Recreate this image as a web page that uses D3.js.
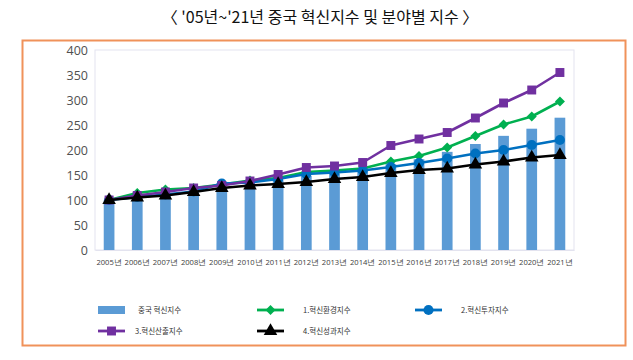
<!DOCTYPE html>
<html><head><meta charset="utf-8">
<script src="https://cdn.jsdelivr.net/npm/d3@7"></script>
<style>
html,body{margin:0;padding:0;background:#fff;}
svg{display:block;}
</style></head>
<body><svg id="c" width="633" height="360"></svg>
<script>
const years = ["2005년","2006년","2007년","2008년","2009년","2010년","2011년","2012년","2013년","2014년","2015년","2016년","2017년","2018년","2019년","2020년","2021년"];
const overall = [100,104.4,111.4,116.5,124.6,131.8,139.6,148.2,152.6,158.2,171.5,181.4,196.3,212.0,228.3,242.6,264.6];
const envIdx = [100,114,121,124,131,139,144,156,159,163,177,188,205,228,251,267,297];
const inputIdx = [100,106,111,117,133,135,142,152,155,159,166,174,183,193,200,210,220];
const outputIdx = [100,109,116,124,129,138,151,165,168,175,209,222,235,264,294,320,355];
const effectIdx = [100,105,109,116,124,129,132,136,142,146,154,160,163,171,177,185,190];
const yTicks = [0,50,100,150,200,250,300,350,400];
const title = "〈 '05년~'21년 중국 혁신지수 및 분야별 지수 〉";
const barName = "중국 혁신지수";

const lineSeries = [
  {name:"1.혁신환경지수", values:envIdx, color:"#00b050", symbol:d3.symbolSquare, size:50, rot:45},
  {name:"2.혁신투자지수", values:inputIdx, color:"#0070c0", symbol:d3.symbolCircle, size:80, rot:0},
  {name:"3.혁신산출지수", values:outputIdx, color:"#7030a0", symbol:d3.symbolSquare, size:80, rot:0},
  {name:"4.혁신성과지수", values:effectIdx, color:"#000000", symbol:d3.symbolTriangle, size:80, rot:0}
];
const barColor = "#5b9bd5";

const svg = d3.select("#c");
const m = {l:95, r:574, t:50, b:250};

svg.append("text").attr("x",320).attr("y",23).attr("text-anchor","middle")
  .attr("font-family","'Noto Sans CJK KR', sans-serif").attr("font-size",16).attr("fill","#111")
  .text(title);

svg.append("rect").attr("x",22.5).attr("y",40.5).attr("width",603).attr("height",305)
  .attr("fill","none").attr("stroke","#f0925a").attr("stroke-width",2);

const x = d3.scaleBand().domain(years).range([m.l,m.r]).paddingInner(0.62).paddingOuter(0.31);
const y = d3.scaleLinear().domain([0,400]).range([m.b,m.t]);

svg.append("rect").attr("x",m.l).attr("y",m.t).attr("width",m.r-m.l).attr("height",m.b-m.t)
  .attr("fill","none").attr("stroke","#e3e3ef").attr("stroke-width",1);

const yAx = svg.append("g").attr("transform",`translate(${m.l},0)`)
  .call(d3.axisLeft(y).tickValues(yTicks).tickSize(0).tickPadding(7));
yAx.select(".domain").remove();
yAx.selectAll("text").attr("font-family","'Open Sans', sans-serif").attr("font-size",12.5).attr("fill","#505050");

const xAx = svg.append("g").attr("transform",`translate(0,${m.b})`)
  .call(d3.axisBottom(x).tickSize(0).tickPadding(10));
xAx.select(".domain").attr("stroke","#e3e3ef");
xAx.selectAll("text").attr("font-family","'Open Sans', sans-serif").attr("font-size",7.6).attr("fill","#404040");

svg.append("g").selectAll("rect").data(overall).join("rect")
  .attr("x",(d,i)=>x(years[i])).attr("width",x.bandwidth())
  .attr("y",d=>y(d)).attr("height",d=>y(0)-y(d)).attr("fill",barColor);

const cx = i => x(years[i]) + x.bandwidth()/2;
const line = d3.line().x((d,i)=>cx(i)).y(d=>y(d));

lineSeries.forEach(s=>{
  const g = svg.append("g");
  g.append("path").datum(s.values).attr("d",line).attr("fill","none")
    .attr("stroke",s.color).attr("stroke-width",2.6).attr("stroke-linejoin","round");
  g.selectAll("path.m").data(s.values).join("path").attr("class","m")
    .attr("d",d3.symbol().type(s.symbol).size(s.size))
    .attr("transform",(d,i)=>`translate(${cx(i)},${y(d)}) rotate(${s.rot})`).attr("fill",s.color);
});

const legItems = [
  {kind:"bar", name:barName, color:barColor, x:98, y:310},
  {kind:"line", s:lineSeries[0], x:257, y:310},
  {kind:"line", s:lineSeries[1], x:415, y:310},
  {kind:"line", s:lineSeries[2], x:98, y:331},
  {kind:"line", s:lineSeries[3], x:257, y:331}
];
const lg = svg.append("g");
legItems.forEach(it=>{
  if(it.kind==="bar"){
    lg.append("rect").attr("x",it.x).attr("y",it.y-4).attr("width",27).attr("height",8).attr("fill",it.color);
    lg.append("text").attr("x",it.x+40).attr("y",it.y+3).text(it.name)
      .attr("font-family","'Noto Sans CJK KR', sans-serif").attr("font-size",7.5).attr("fill","#333");
  } else {
    const s = it.s;
    lg.append("line").attr("x1",it.x).attr("x2",it.x+27).attr("y1",it.y).attr("y2",it.y)
      .attr("stroke",s.color).attr("stroke-width",2.8);
    lg.append("path").attr("d",d3.symbol().type(s.symbol).size(s.size))
      .attr("transform",`translate(${it.x+13.5},${it.y}) rotate(${s.rot})`).attr("fill",s.color);
    lg.append("text").attr("x",it.x+(it.x===98?37:46)).attr("y",it.y+3).text(s.name)
      .attr("font-family","'Noto Sans CJK KR', sans-serif").attr("font-size",7.5).attr("fill","#333");
  }
});
</script></body></html>
